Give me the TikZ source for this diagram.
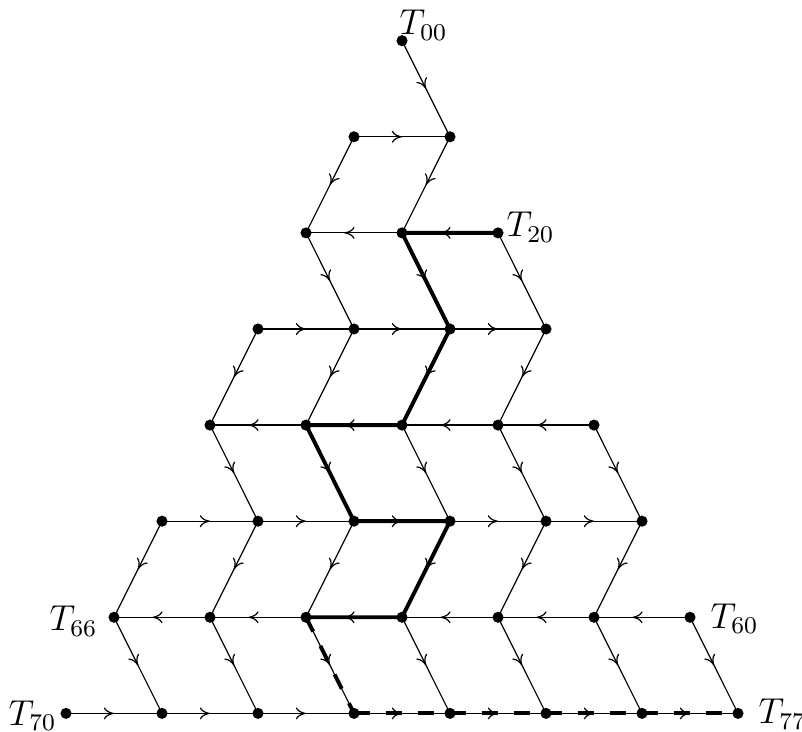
\documentclass[tikz,border=0pt]{standalone}
\usetikzlibrary{decorations.markings,calc,arrows.meta}
\pgfdeclarelayer{bg}
\pgfsetlayers{bg,main}
\tikzset{
  dot/.style={circle,fill=black,inner sep=0pt,minimum size=3.7pt},
  tip/.tip={To[length=3.4pt,width=4pt]},
  fwd/.style={decoration={markings,mark=at position 0.5 with {\arrow{tip}}},postaction={decorate}},
  bwd/.style={decoration={markings,mark=at position 0.6 with {\arrow{tip}}},postaction={decorate}},
  hot/.style={line width=1.3pt,line join=round},
  hotdash/.style={line width=1.3pt,dash pattern=on 5.33pt off 5.33pt},
  lab/.style={inner sep=0pt,font=\fontsize{12}{14}\selectfont},
}
\begin{document}
\begin{tikzpicture}[x=0.33333pt,y=-0.33333pt]
\useasboundingbox (0,0) rectangle (802,732);
% nodes
\foreach \k in {0,...,7}{
  \foreach \j in {0,...,\k}{
    \node[dot] (n\k\j) at ({402-48*\k+96*\j},{40.7+96.1*\k}) {};
  }
}
\begin{pgfonlayer}{bg}
% highlighted path
\draw[hot] (n22.center) -- (n21.center) -- (n32.center) -- (n42.center) -- (n41.center)
  -- (n52.center) -- (n53.center) -- (n63.center) -- (n62.center);
\draw[hotdash] (n62.center) -- (n73.center);
\draw[hotdash] (n73.center) -- (n74.center);
\draw[hotdash] (n74.center) -- (n75.center);
\draw[hotdash] (n75.center) -- (n76.center);
\draw[hotdash] (n76.center) -- (n77.center);
% horizontal edges
\foreach \k in {1,...,7}{
  \pgfmathtruncatemacro{\km}{\k-1}
  \foreach \j in {0,...,\km}{
    \pgfmathtruncatemacro{\jp}{\j+1}
    \ifodd\k
      \draw[fwd] (n\k\j.center) -- (n\k\jp.center);
    \else
      \draw[bwd] (n\k\jp.center) -- (n\k\j.center);
    \fi
  }
}
% diagonal edges
\foreach \k in {0,...,6}{
  \pgfmathtruncatemacro{\kp}{\k+1}
  \foreach \j in {0,...,\k}{
    \pgfmathtruncatemacro{\jp}{\j+1}
    \ifodd\k
      \draw[fwd] (n\k\j.center) -- (n\kp\j.center);
    \else
      \draw[fwd] (n\k\j.center) -- (n\kp\jp.center);
    \fi
  }
}
\end{pgfonlayer}
% labels
\node[lab,anchor=base west] (t00) at ($(n00)+(-3,-5.7)$) {$T_{00}$};
\node[lab,anchor=base west] (t20) at ($(n22)+(8,3.8)$) {$T_{20}$};
\node[lab,anchor=base west] (t60) at ($(n66)+(20,11)$) {$T_{60}$};
\node[lab,anchor=base east] (t66) at ($(n60)+(-16,13.4)$) {$T_{66}$};
\node[lab,anchor=base east] (t70) at ($(n70)+(-9,12)$) {$T_{70}$};
\node[lab,anchor=base west] (t77) at ($(n77)+(20,10.3)$) {$T_{77}$};
\end{tikzpicture}
\end{document}
